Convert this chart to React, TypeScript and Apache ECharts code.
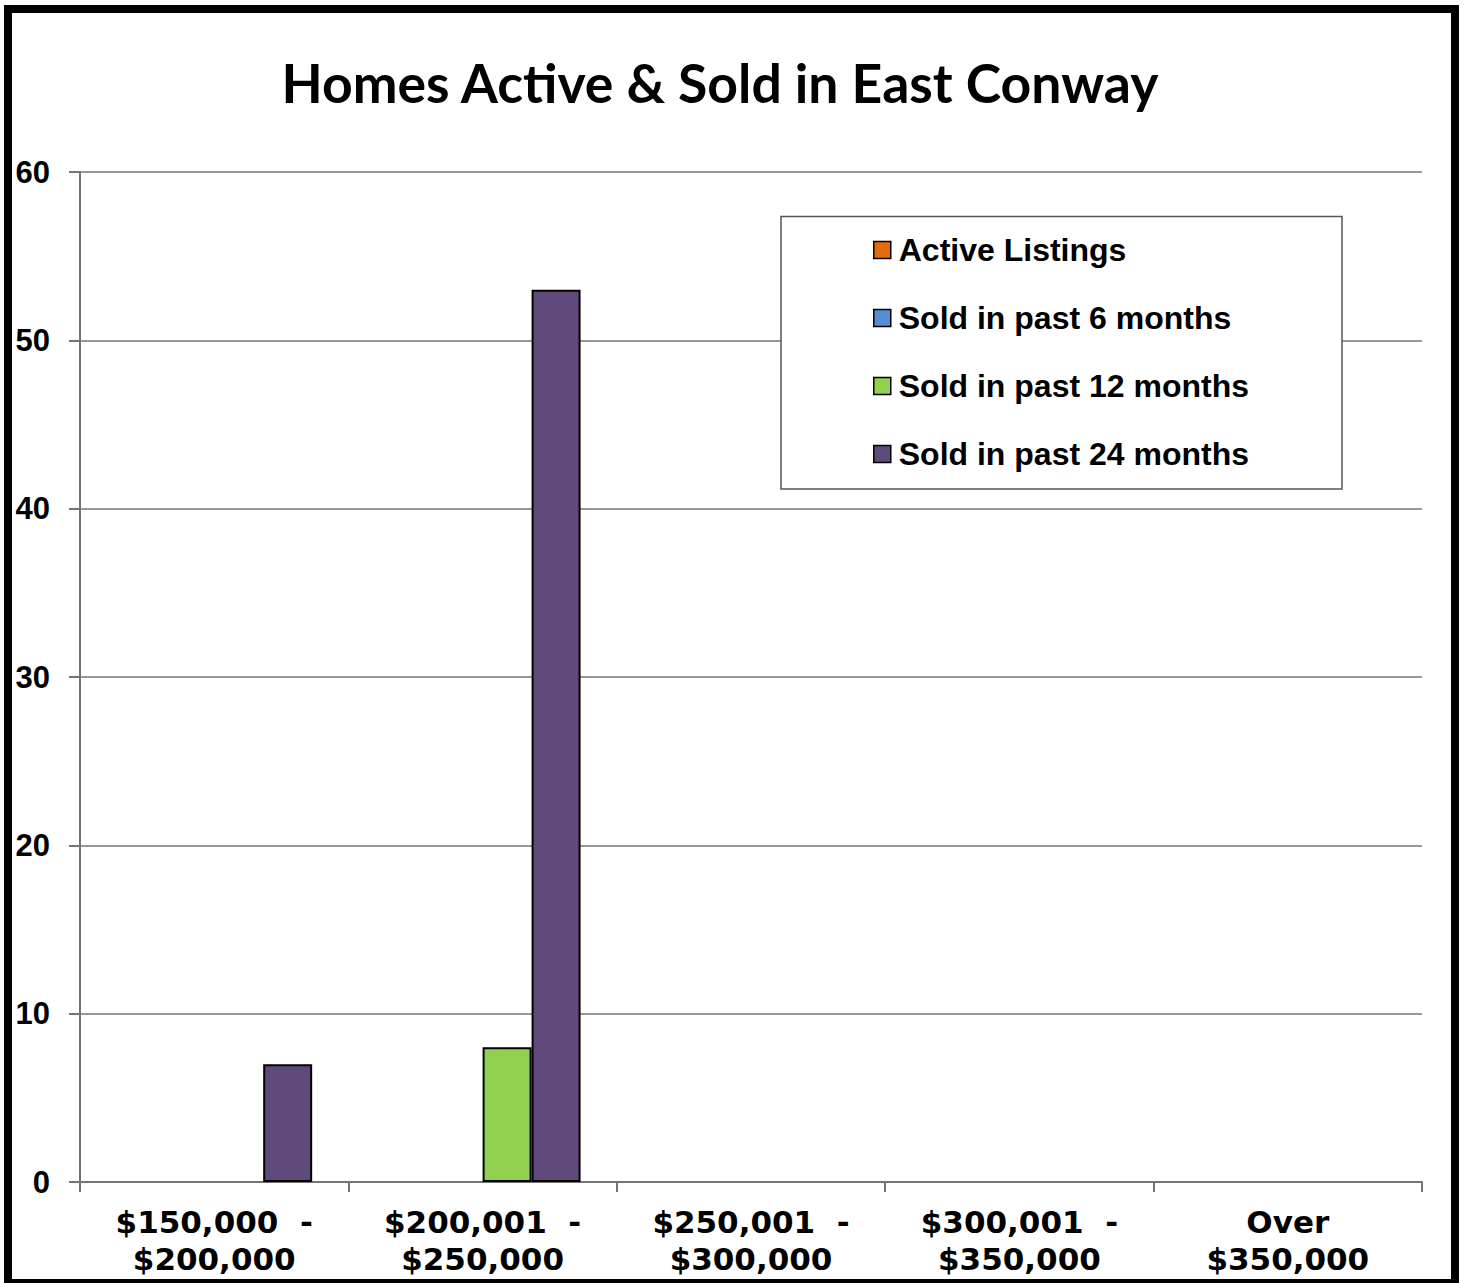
import React, { useEffect, useRef } from "react";
import * as echarts from "echarts";

const categories = [
  "$150,000  -\n$200,000",
  "$200,001  -\n$250,000",
  "$250,001  -\n$300,000",
  "$300,001  -\n$350,000",
  "Over\n$350,000",
];
const seriesNames = [
  "Active Listings",
  "Sold in past 6 months",
  "Sold in past 12 months",
  "Sold in past 24 months",
];
const activeListings = [0, 0, 0, 0, 0];
const soldPast6 = [0, 0, 0, 0, 0];
const soldPast12 = [0, 8, 0, 0, 0];
const soldPast24 = [7, 53, 0, 0, 0];
const yTicks = { min: 0, max: 60, interval: 10 };
const colors = ["#E46C0A", "#558ED5", "#92D050", "#604A7B"];
const title = "Homes Active & Sold in East Conway";

export default function App() {
  const ref = useRef<HTMLDivElement>(null);
  useEffect(() => {
    if (!ref.current) return;
    const chart = echarts.init(ref.current, null, { renderer: "svg" });
    const allData = [activeListings, soldPast6, soldPast12, soldPast24];
    const gray = "#747474";
    chart.setOption({
      animation: false,
      backgroundColor: "#ffffff",
      grid: { left: 80, right: 44, top: 172, bottom: 101, containLabel: false },
      legend: {
        orient: "vertical",
        left: 873,
        top: 233,
        padding: 0,
        itemGap: 34,
        itemWidth: 17,
        itemHeight: 17,
        icon: "rect",
        z: 10,
        data: seriesNames,
        itemStyle: { borderColor: "#000", borderWidth: 1.5 },
        textStyle: {
          fontFamily: "Liberation Sans, Arial, sans-serif",
          fontWeight: "bold",
          fontSize: 32,
          lineHeight: 34,
          color: "#000",
          padding: [0, 0, 0, 3],
        },
      },
      graphic: [
        {
          type: "rect",
          z: 5,
          silent: true,
          shape: { x: 781, y: 216.5, width: 561, height: 272.5 },
          style: { fill: "#fff", stroke: "#555", lineWidth: 1.5 },
        },
        {
          type: "text",
          z: 5,
          x: 720,
          y: 82,
          style: {
            text: title,
            fontFamily: "Lato, sans-serif",
            fontWeight: "bold",
            fontSize: 53.5,
            fill: "#000",
            textAlign: "center",
            textVerticalAlign: "middle",
          },
        },
        {
          type: "rect",
          z: 20,
          silent: true,
          shape: { x: 8, y: 9, width: 1447, height: 1274 },
          style: { fill: "none", stroke: "#000", lineWidth: 8 },
        },
      ],
      xAxis: {
        type: "category",
        data: categories,
        axisLine: { show: true, lineStyle: { color: gray, width: 2 } },
        axisTick: { show: true, length: 10, lineStyle: { color: gray, width: 2 } },
        axisLabel: {
          margin: 21,
          fontFamily: "DejaVu Sans, sans-serif",
          fontWeight: "bold",
          fontSize: 31,
          lineHeight: 37,
          color: "#000",
          interval: 0,
        },
        splitLine: { show: false },
      },
      yAxis: {
        type: "value",
        min: yTicks.min,
        max: yTicks.max,
        interval: yTicks.interval,
        axisLine: { show: true, lineStyle: { color: gray, width: 2 } },
        axisTick: { show: true, length: 11, lineStyle: { color: gray, width: 2 } },
        axisLabel: {
          margin: 30,
          fontFamily: "Liberation Sans, Arial, sans-serif",
          fontWeight: "bold",
          fontSize: 31,
          color: "#000",
        },
        splitLine: { show: true, lineStyle: { color: gray, width: 1.5 } },
      },
      series: seriesNames.map((name, i) => ({
        name,
        type: "bar",
        barGap: "0%",
        barCategoryGap: "27%",
        data: allData[i].map((v) => (v === 0 ? null : v)),
        itemStyle: { color: colors[i], borderColor: "#000", borderWidth: 2 },
      })),
    });
    return () => chart.dispose();
  }, []);
  return (
    <div
      ref={ref}
      style={{ position: "absolute", left: 0, top: 0, width: 1466, height: 1283 }}
    />
  );
}
